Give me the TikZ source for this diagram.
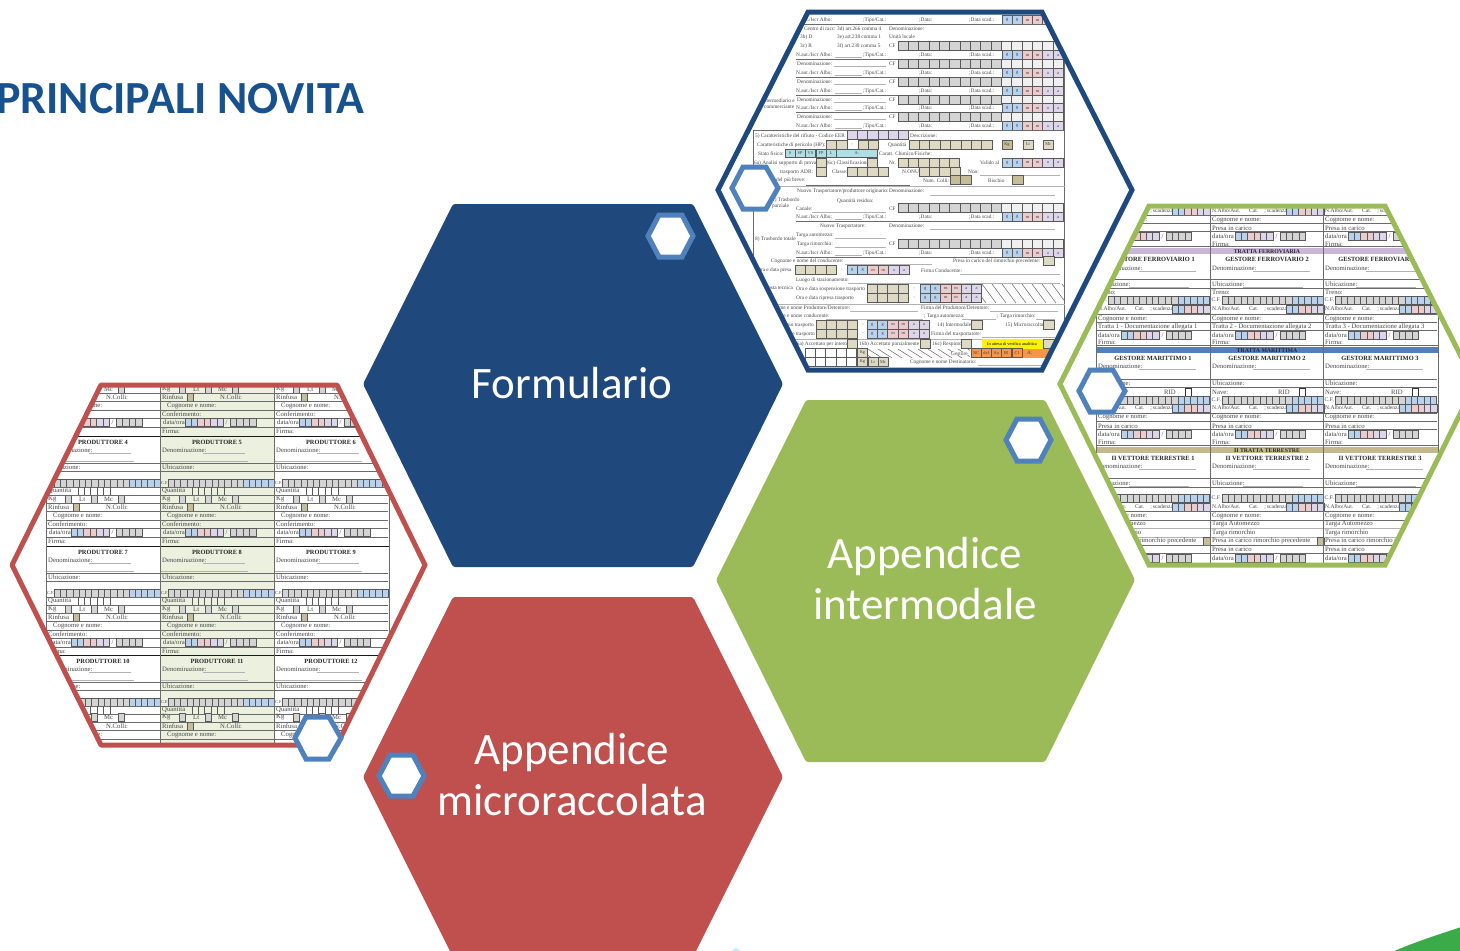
\documentclass[tikz,border=0pt]{standalone}
\usepackage{fontspec}
\setmainfont{Carlito}
\newfontfamily\formfont{Liberation Serif}
\definecolor{hexblue}{HTML}{1F497D}
\definecolor{hexred}{HTML}{C0504D}
\definecolor{hexgreen}{HTML}{9BBB59}
\definecolor{smallhex}{HTML}{4F81BD}
\definecolor{titleblue}{HTML}{17528F}
\definecolor{dblue}{HTML}{B8D2EE}
\definecolor{dpink}{HTML}{EBCBCB}
\definecolor{dlav}{HTML}{DDD6EA}
\definecolor{cgrey}{HTML}{D4D4D4}
\definecolor{clight}{HTML}{F0F0F0}
\definecolor{ctan}{HTML}{DDD9C3}
\definecolor{cdark}{HTML}{C4BD97}
\definecolor{ccyan}{HTML}{B0DEE6}
\definecolor{corange}{HTML}{F79646}
\definecolor{bandpurple}{HTML}{C9B6D9}
\definecolor{bandtan}{HTML}{C4B98C}
\definecolor{midgreen}{HTML}{EBF1DE}
\definecolor{logogreen}{HTML}{3BAA49}
\tikzset{
  ft/.style={anchor=west,inner sep=0pt,text=black!72,font=\formfont\fontsize{5.3}{5.3}\selectfont},
  ftbig/.style={ft/.append style={font=\formfont\fontsize{6.7}{6.7}\selectfont}},
  fs/.style={anchor=west,inner sep=0pt,text=black!72,font=\formfont\fontsize{5.6}{5.6}\selectfont},
  fb/.style={anchor=center,inner sep=0pt,text=black!85,font=\formfont\bfseries\fontsize{6.4}{6.4}\selectfont},
  fband/.style={anchor=center,inner sep=0pt,text=black!85,font=\formfont\bfseries\fontsize{5.8}{5.8}\selectfont},
  fc/.style={anchor=center,inner sep=0pt,text=black!75,font=\formfont\fontsize{4.4}{4.4}\selectfont},
  cellln/.style={draw=black!65,line width=.7pt},
  rowln/.style={draw=black!58,line width=.8pt},
  thinln/.style={draw=black!30,line width=.4pt},
  hatchln/.style={draw=black!60,line width=.5pt},
  darkln/.style={draw=black!80,line width=.8pt},
  bighex/.style={rounded corners=2.5pt},
  framehex/.style={line width=5pt,line join=miter,fill=none},
  minihex/.style={draw=smallhex,line width=5pt,fill=white,line join=miter},
  hexlabel/.style={inner sep=0pt,text=white,align=center,font=\fontsize{45}{51}\selectfont}
}
% text, cells
\newcommand{\ftxt}[3]{\node[ft] at (#1,#2) {#3};}
\newcommand{\stxt}[3]{\node[fs] at (#1,#2) {#3};}
\newcommand{\cellrow}[6]{\foreach \ii in {1,...,#3}{\draw[cellln,fill=#6] ({#1+(\ii-1)*#4},{#2-#5/2}) rectangle ++(#4,#5);}}
\newcommand{\datecells}[4]{%
  \foreach \ii/\cc/\ll in {1/dblue/g,2/dblue/g,3/dpink/m,4/dpink/m,5/dlav/a,6/dlav/a}{%
    \draw[cellln,fill=\cc] ({#1+(\ii-1)*#3},{#2-#4/2}) rectangle ++(#3,#4);
    \node[fc] at ({#1+(\ii-.5)*#3},#2) {\ll};}}
\newcommand{\datenol}[4]{%
  \foreach \ii/\cc in {1/dblue,2/dblue,3/dpink,4/dpink,5/dlav,6/dlav}{%
    \draw[cellln,fill=\cc] ({#1+(\ii-1)*#3},{#2-#4/2}) rectangle ++(#3,#4);}}
\newcommand{\labcell}[6]{\draw[cellln,fill=#5] (#1,{#2-#4/2}) rectangle ++(#3,#4) node[fc,midway] {#6};}
\newcommand{\hatcharea}[4]{%
  \begin{scope}
  \clip (#1,#2) rectangle (#3,#4);
  \foreach \hh in {0,10,...,280}{\draw[hatchln] ({#1-20+\hh},#2) -- ++(14,{#4-#2});}
  \end{scope}}
% top form rows
\newcommand{\nrow}[1]{%
  \ftxt{796}{#1}{N.aut./Iscr Albo:}\ftxt{863}{#1}{;Tipo/Cat.:}\ftxt{919}{#1}{;Data:}\ftxt{969}{#1}{;Data scad.:}
  \draw[thinln] (835,{#1+2.5}) -- (862,{#1+2.5});
  \draw[rowln] (796,{#1+4}) -- (1065,{#1+4});
  \datecells{1002}{#1}{10.2}{9}}
\newcommand{\drow}[2]{%
  \ftxt{797}{#1}{#2}\draw[thinln] (834,{#1+2.5}) -- (886,{#1+2.5});
  \ftxt{889}{#1}{CF}
  \cellrow{898}{#1}{10}{10.35}{9}{cgrey}
  \cellrow{1001.5}{#1}{6}{10.3}{9}{clight}}
% green form rows
\newcommand{\gcf}[2]{%
  \stxt{#1+1.5}{#2}{C.F.}
  \cellrow{#1+12}{#2}{11}{6.35}{8}{cgrey}
  \cellrow{#1+82}{#2}{5}{6.35}{8}{dblue}}
\newcommand{\galbo}[2]{%
  \stxt{#1+2}{#2}{N.Albo/Aut.\hspace{9pt}Cat.\hspace{6pt};\,scadenza}
  \datenol{#1+76}{#2}{6.35}{8}}
\newcommand{\gdata}[2]{%
  \ftxt{#1+2}{#2}{data/ora}
  \datenol{#1+25}{#2}{6.35}{8}
  \ftxt{#1+65.5}{#2}{/}
  \cellrow{#1+70}{#2}{4}{6.35}{8}{cgrey}}
% red form rows
\newcommand{\redlow}[2]{%
  \ftxt{#1+2}{#2+63}{Kg}\cellrow{#1+19}{#2+63}{1}{6.5}{8}{cgrey}
  \ftxt{#1+33}{#2+63}{Lt}\cellrow{#1+45}{#2+63}{1}{6.5}{8}{cgrey}
  \ftxt{#1+58}{#2+63}{Mc}\cellrow{#1+72}{#2+63}{1}{6.5}{8}{cgrey}
  \draw[rowln] (#1,{#2+67}) -- ++(114,0);
  \ftxt{#1+2}{#2+71}{Rinfusa}\cellrow{#1+27}{#2+71}{1}{6}{8}{cdark}\ftxt{#1+60}{#2+71}{N.Colli:}
  \draw[rowln] (#1,{#2+75.5}) -- ++(114,0);
  \ftxt{#1+7}{#2+80}{Cognome e nome:}
  \draw[rowln] (#1,{#2+84}) -- ++(114,0);
  \ftxt{#1+2}{#2+88}{Conferimento:}
  \draw[rowln] (#1,{#2+92}) -- ++(114,0);
  \ftxt{#1+3}{#2+96.5}{data/ora}
  \datenol{#1+25}{#2+96.5}{6.4}{8}
  \ftxt{#1+65.5}{#2+96.5}{/}
  \cellrow{#1+70}{#2+96.5}{4}{6.6}{8}{cgrey}
  \draw[rowln] (#1,{#2+101}) -- ++(114,0);
  \ftxt{#1+2}{#2+105.5}{Firma:}}
\newcommand{\redup}[3]{%
  \node[fb] at ({#1+57},{#2+6}) {PRODUTTORE #3};
  \ftxt{#1+2}{#2+14}{Denominazione:}\draw[thinln] (#1+43,{#2+17}) -- ++(42,0);
  \draw[thinln] (#1,{#2+25}) -- ++(88,0);
  \draw[rowln] (#1,{#2+27}) -- ++(114,0);
  \ftxt{#1+2}{#2+31}{Ubicazione:}
  \draw[rowln] (#1,{#2+35}) -- ++(114,0);
  \node[fc,anchor=west] at (#1+1,{#2+47}) {C.F.};
  \cellrow{#1+8}{#2+47}{12}{6.3}{8}{cgrey}
  \cellrow{#1+83.5}{#2+47}{5}{6.1}{8}{dblue}
  \draw[rowln] (#1,{#2+51}) -- ++(114,0);
  \ftxt{#1+2}{#2+55}{Quantità}
  \foreach \jj in {0,...,5}{\draw[cellln] ({#1+32+\jj*6.4},{#2+51}) -- ++(0,8);}
  \draw[rowln] (#1,{#2+59}) -- ++(114,0);}
\begin{document}
\begin{tikzpicture}[x=1pt,y=-1pt]
\useasboundingbox (0,0) rectangle (1460,951);
\clip (0,0) rectangle (1460,951);
\fill[white] (0,0) rectangle (1460,951);

% title
\node[anchor=base west,inner sep=0pt,text=titleblue,font=\bfseries\fontsize{46}{46}\selectfont] (title) at (-4,113) {PRINCIPALI NOVITA};

% big coloured hexagons
\fill[hexblue,bighex] (363,384) -- (453,204) -- (693,204) -- (783,384) -- (693,567) -- (453,567) -- cycle;
\fill[hexred,bighex] (363,777) -- (453,597) -- (693,597) -- (783,777) -- (693,957) -- (453,957) -- cycle;
\fill[hexgreen,bighex] (716,580) -- (806,400) -- (1045,400) -- (1135,580) -- (1045,762) -- (806,762) -- cycle;
\node[hexlabel] (formlabel) at (572,383) {Formulario};
\node[hexlabel] (intlabel) at (925,579) {Appendice\\intermodale};
\node[hexlabel] (miclabel) at (572,775) {Appendice\\microraccolata};

% ---------- top form ----------
\begin{scope}
\clip (718,190) -- (808,12) -- (1042,12) -- (1132,190) -- (1042,370) -- (808,370) -- cycle;
\fill[white] (718,190) -- (808,12) -- (1042,12) -- (1132,190) -- (1042,370) -- (808,370) -- cycle;
\ftxt{796}{20}{N.aut./Iscr Albo:}\ftxt{863}{20}{;Tipo/Cat.:}\ftxt{919}{20}{;Data:}\ftxt{969}{20}{;Data scad.:}
\datecells{1002}{20}{10.2}{9}
\draw[rowln] (796,24) -- (1065,24);
\ftxt{804}{29}{Centro di racc:}\ftxt{837}{29}{3d) art.266 comma 4}\ftxt{889}{29}{Denominazione:}
\ftxt{800}{37}{3b) D}\ftxt{837}{37}{3e) art.238 comma 1}\ftxt{889}{37}{Unità locale}
\ftxt{800}{46}{3c) R}\ftxt{837}{46}{3f) art.230 comma 5}\ftxt{889}{46}{CF}
\cellrow{898}{46}{10}{10.35}{9}{cgrey}\cellrow{1001.5}{46}{6}{10.3}{9}{clight}
\nrow{55}
\drow{64}{Denominazione:}
\nrow{73}
\drow{82}{Denominazione:}
\nrow{91}
\drow{100}{Denominazione:}
\nrow{108}
\drow{117}{Denominazione:}
\nrow{126}
\ftxt{762}{101}{Intermediario e}\ftxt{764}{107}{commerciante}
\draw[rowln] (753,130) -- (1065,130);
\draw[rowln] (753,130) -- (753,305);
\draw[rowln] (1064.5,10) -- (1064.5,360);
% characteristics
\ftxt{755}{136}{5) Caratteristiche del rifiuto - Codice EER}
\cellrow{847}{135}{6}{10.3}{9}{dlav}
\ftxt{910}{136}{Descrizione:}
\ftxt{757}{145}{Caratteristiche di pericolo (HP):}
\cellrow{826.5}{144.5}{2}{10.3}{9}{ctan}\node[fc] at (852,144.5) {-};\cellrow{858}{144.5}{2}{10.3}{9}{ctan}
\ftxt{888}{145}{Quantità}
\cellrow{909}{144.5}{8}{10.4}{9}{ctan}
\labcell{1002}{144.5}{10}{9}{cdark}{Kg}\labcell{1023}{144.5}{10}{9}{ctan}{Lt}\labcell{1043}{144.5}{10.5}{9}{ctan}{Mc}
\ftxt{758}{154}{Stato fisico:}
\foreach \xx/\ww/\tt in {785/10/S,795/10/SP,805.5/10/VS,816/10/FP,826/10/L}{\labcell{\xx}{153.5}{\ww}{8.5}{ccyan}{\tt}}
\labcell{836}{153.5}{41.5}{8.5}{ccyan}{A:}
\ftxt{879}{154}{Caratt. Chimico/Fisiche:}
\ftxt{754}{163}{6a) Analisi supporto di prova}
\cellrow{816}{162.5}{1}{10.5}{9}{ctan}
\ftxt{826.5}{163}{(6c) Classificazione}
\cellrow{867}{162.5}{1}{10.3}{9}{ctan}
\ftxt{889}{163}{Nr.}
\cellrow{898}{162.5}{6}{10.3}{9}{ctan}
\ftxt{980}{163}{Valido al}
\datecells{1002}{162.5}{10.2}{9}
\ftxt{780}{172}{trasporto ADR:}
\cellrow{816}{171.5}{1}{10.5}{9}{ctan}
\ftxt{832}{172}{Classe:}
\cellrow{847}{171.5}{4}{10.3}{9}{ctan}
\ftxt{902}{172}{N.ONU:}
\cellrow{919}{171.5}{4}{10.3}{9}{ctan}
\ftxt{968}{172}{Non:}\draw[thinln] (980,175) -- (1060,175);
\ftxt{776}{180}{del più breve:}\draw[rowln] (806,185) -- (910,185);
\ftxt{923}{181}{Num. Colli:}
\cellrow{950}{180}{2}{10.5}{9}{cdark}
\ftxt{988}{181}{Rischio}
\cellrow{1012}{180}{1}{11}{9}{cdark}
\draw[thinln] (753,186) -- (1065,186);
% transporter
\ftxt{797}{191}{Nuovo Trasportatore/produttore originario:}\ftxt{889}{191}{Denominazione:}\draw[thinln] (930,195) -- (1055,195);
\ftxt{837}{201}{Quantità residua:}
\ftxt{772}{200}{7) Trasbordo}\ftxt{772}{206}{parziale}
\ftxt{796}{209}{Canale:}\draw[thinln] (812,212) -- (886,212);
\ftxt{889}{209}{CF}
\cellrow{898}{208}{10}{10.35}{9}{cgrey}\cellrow{1001.5}{208}{6}{10.3}{9}{clight}
\nrow{217}
\ftxt{820}{226}{Nuovo Trasportatore:}\ftxt{889}{226}{Denominazione:}\draw[thinln] (930,229) -- (1055,229);
\ftxt{796}{235}{Targa automezzo:}\draw[thinln] (835,238) -- (886,238);
\ftxt{755}{239}{8) Trasbordo totale}
\ftxt{797}{244}{Targa rimorchio:}\draw[thinln] (835,247) -- (886,247);
\ftxt{889}{244}{CF}
\cellrow{898}{244}{10}{10.35}{9}{cgrey}\cellrow{1001.5}{244}{6}{10.3}{9}{clight}
\nrow{253}
\ftxt{771}{261}{Cognome e nome del conducente:}\draw[thinln] (845,264) -- (932,264);
\ftxt{953}{261}{Presa in carico del rimorchio precedente:}
\cellrow{1043}{261}{1}{11}{9}{ctan}
\ftxt{757}{270}{Ora e data presa}
\cellrow{795}{270}{4}{10.4}{9}{ctan}\node[fc] at (842,270) {-};\datecells{847}{270}{10.4}{9}
\ftxt{921}{271}{Firma Conducente:}\draw[thinln] (960,274) -- (1060,274);
\ftxt{796}{280}{Luogo di stazionamento:}\draw[thinln] (848,283) -- (1060,283);
\ftxt{765}{288}{Sosta tecnica}
\ftxt{796}{289}{Ora e data sospensione trasporto}
\ftxt{796}{298}{Ora e data ripresa trasporto}
\cellrow{867}{288.5}{4}{10.4}{9}{ctan}\cellrow{867}{297.5}{4}{10.4}{9}{ctan}
\node[fc] at (914,288.5) {-};\node[fc] at (914,297.5) {-};
\datecells{920}{288.5}{10.3}{9}\datecells{920}{297.5}{10.3}{9}
\hatcharea{982}{284}{1064}{303}
\draw[thinln] (753,304) -- (1065,304);
\ftxt{765}{308}{Cognome e nome Produttore/Detentore:}\draw[thinln] (850,311) -- (918,311);
\ftxt{921}{308}{Firma del Produttore/Detentore:}\draw[thinln] (990,311) -- (1058,311);
\ftxt{765}{316}{Cognome e nome conducente:}\draw[thinln] (826,319) -- (923,319);
\ftxt{924}{316}{; Targa automezzo:}\draw[thinln] (962,319) -- (996,319);
\ftxt{997}{316}{; Targa rimorchio:}\draw[thinln] (1036,319) -- (1055,319);
\ftxt{770}{325}{Data inizio trasporto}
\cellrow{816}{324.5}{4}{10.4}{9}{ctan}\node[fc] at (863,324.5) {-};\datecells{867}{324.5}{10.4}{9}
\ftxt{937}{325}{14) Intermodale}\cellrow{971}{324.5}{1}{11}{9}{ctan}
\ftxt{1005}{325}{15) Microraccolta}\cellrow{1043}{324.5}{1}{11}{9}{ctan}
\ftxt{785}{334}{Fine trasporto}
\cellrow{816}{333.5}{4}{10.4}{9}{ctan}\node[fc] at (863,333.5) {-};\datecells{867}{333.5}{10.4}{9}
\ftxt{931}{334}{Firma del trasportatore:}\draw[thinln] (982,337) -- (1055,337);
\draw[thinln] (775,339) -- (1065,339);
\ftxt{794}{344}{16a) Accettato per intero}\cellrow{847}{343.5}{1}{10.3}{9}{ctan}
\ftxt{859}{344}{16b) Accettato parzialmente}\cellrow{920}{343.5}{1}{10.3}{9}{ctan}
\ftxt{932}{344}{16c) Respinto}\cellrow{961}{343.5}{1}{10.5}{9}{ctan}
\fill[yellow] (982,339) rectangle (1043,349);
\node[fc,text=black] at (1012,344) {In attesa di verifica analitica};
\cellrow{1043}{343.5}{1}{11}{9}{ctan}
\cellrow{805}{353}{5}{10.3}{9}{white}
\labcell{857.5}{353}{10}{9}{ctan}{Kg}
\hatcharea{868}{349}{970}{358}
\node[ft,fill=white] at (951,353.5) {Gestore};
\fill[corange] (971,348.5) rectangle (1050,358);
\foreach \xx/\tt in {971/NC,981/daf,991/Aa,1001/IR,1012/C1}{\labcell{\xx}{353}{10.3}{9}{corange}{\tt}}
\ftxt{1027}{353}{A:}
\cellrow{805}{362}{5}{10.3}{9}{white}
\labcell{857.5}{362}{10}{9}{ctan}{Kg}\labcell{868}{362}{10}{9}{ctan}{Lt}\labcell{878}{362}{10}{9}{ctan}{Mc}
\ftxt{910}{362}{Cognome e nome Destinatario:}\draw[thinln] (978,365) -- (1045,365);
\end{scope}
\draw[hexblue,framehex] (718,190) -- (808,12) -- (1042,12) -- (1132,190) -- (1042,370) -- (808,370) -- cycle;

% ---------- green form ----------
\begin{scope}[ftbig]
\clip (1060,384) -- (1149,206) -- (1385,206) -- (1475,384) -- (1385,565) -- (1149,565) -- cycle;
\fill[white] (1060,384) -- (1149,206) -- (1385,206) -- (1475,384) -- (1385,565) -- (1149,565) -- cycle;
\foreach \cx/\cn in {1096/1,1210/2,1323/3}{
  \galbo{\cx}{211}
  \draw[rowln] (\cx,215) -- ++(114,0);
  \ftxt{\cx+2}{220}{Cognome e nome:}
  \draw[rowln] (\cx,223.5) -- ++(114,0);
  \ftxt{\cx+2}{228}{Presa in carico}
  \draw[rowln] (\cx,231) -- ++(114,0);
  \gdata{\cx}{236}
  \ftxt{\cx+2}{244}{Firma:}
  \node[fb] at ({\cx+57},259) {GESTORE FERROVIARIO \cn};
  \ftxt{\cx+2}{268}{Denominazione:}\draw[thinln] (\cx+43,271) -- ++(57,0);
  \draw[rowln] (\cx,279.5) -- ++(114,0);
  \ftxt{\cx+2}{284}{Ubicazione:}\draw[thinln] (\cx+33,287) -- ++(60,0);
  \draw[rowln] (\cx,288) -- ++(114,0);
  \ftxt{\cx+2}{292}{Treno:}
  \gcf{\cx}{300}
  \galbo{\cx}{309}
  \draw[rowln] (\cx,314) -- ++(114,0);
  \ftxt{\cx+2}{319}{Cognome e nome:}
  \draw[rowln] (\cx,322.5) -- ++(114,0);
  \ftxt{\cx+2}{327}{Tratta \cn\ - Documentazione allegata \cn}
  \draw[rowln] (\cx,330) -- ++(114,0);
  \gdata{\cx}{335}
  \ftxt{\cx+2}{342}{Firma:}
  \node[fb] at ({\cx+57},358) {GESTORE MARITTIMO \cn};
  \ftxt{\cx+2}{366}{Denominazione:}\draw[thinln] (\cx+43,369) -- ++(57,0);
  \draw[rowln] (\cx,379) -- ++(114,0);
  \ftxt{\cx+2}{383}{Ubicazione:}
  \draw[rowln] (\cx,387) -- ++(114,0);
  \ftxt{\cx+2}{392}{Nave:}\ftxt{\cx+68}{392}{RID}
  \draw[darkln] (\cx+89,388) rectangle ++(6,8);
  \gcf{\cx}{400}
  \galbo{\cx}{408}
  \draw[rowln] (\cx,413) -- ++(114,0);
  \ftxt{\cx+2}{417}{Cognome e nome:}
  \draw[rowln] (\cx,421.5) -- ++(114,0);
  \ftxt{\cx+2}{426}{Presa in carico}
  \draw[rowln] (\cx,429.5) -- ++(114,0);
  \gdata{\cx}{434}
  \ftxt{\cx+2}{442}{Firma:}
  \node[fb] at ({\cx+57},458) {II VETTORE TERRESTRE \cn};
  \ftxt{\cx+2}{466}{Denominazione:}\draw[thinln] (\cx+43,469) -- ++(57,0);
  \draw[rowln] (\cx,478.5) -- ++(114,0);
  \ftxt{\cx+2}{483}{Ubicazione:}\draw[thinln] (\cx+33,486) -- ++(60,0);
  \draw[rowln] (\cx,487.5) -- ++(114,0);
  \gcf{\cx}{498}
  \galbo{\cx}{507}
  \draw[rowln] (\cx,511.5) -- ++(114,0);
  \ftxt{\cx+2}{516}{Cognome e nome:}
  \draw[rowln] (\cx,520) -- ++(114,0);
  \ftxt{\cx+2}{524}{Targa Automezzo}
  \draw[thinln] (\cx,528.5) -- ++(114,0);
  \ftxt{\cx+2}{533}{Targa rimorchio}
  \draw[thinln] (\cx,537) -- ++(114,0);
  \ftxt{\cx+2}{541}{Presa in carico rimorchio precedente}
  \cellrow{\cx+107}{541}{1}{7}{8}{cdark}
  \draw[rowln] (\cx,545) -- ++(114,0);
  \ftxt{\cx+2}{549}{Presa in carico}
  \draw[rowln] (\cx,553) -- ++(114,0);
  \gdata{\cx}{558}
}
\fill[bandpurple] (1096,248) rectangle (1438,254);
\node[fband] at (1267,251.5) {TRATTA FERROVIARIA};
\fill[smallhex] (1096,347) rectangle (1438,353);
\node[fband] at (1267,350.5) {TRATTA MARITTIMA};
\fill[bandtan] (1096,447) rectangle (1438,453);
\node[fband] at (1267,450.5) {II TRATTA TERRESTRE};
\draw[rowln] (1096,246) -- (1438,246);
\draw[rowln] (1096,345.5) -- (1438,345.5);
\draw[rowln] (1096,445) -- (1438,445);
\foreach \xx in {1096,1210,1323,1438}{\draw[rowln] (\xx,200) -- (\xx,570);}
\end{scope}
\draw[hexgreen,framehex] (1060,384) -- (1149,206) -- (1385,206) -- (1475,384) -- (1385,565) -- (1149,565) -- cycle;

% ---------- red form ----------
\begin{scope}[ftbig]
\clip (12,565) -- (101,385) -- (337,385) -- (425,565) -- (337,745) -- (101,745) -- cycle;
\fill[white] (12,565) -- (101,385) -- (337,385) -- (425,565) -- (337,745) -- (101,745) -- cycle;
\fill[midgreen] (160,385) rectangle (274,745);
\foreach \cx in {46,160,274}{
  \redlow{\cx}{326}
  \redlow{\cx}{436}
  \redlow{\cx}{546}
}
\foreach \cx/\aa/\bb/\cc in {46/4/7/10,160/5/8/11,274/6/9/12}{
  \redup{\cx}{436}{\aa}
  \redup{\cx}{546}{\bb}
  \redup{\cx}{655}{\cc}
  \ftxt{\cx+2}{717.5}{Kg}\cellrow{\cx+19}{717.5}{1}{6.5}{8}{cgrey}
  \ftxt{\cx+33}{717.5}{Lt}\cellrow{\cx+45}{717.5}{1}{6.5}{8}{cgrey}
  \ftxt{\cx+58}{717.5}{Mc}\cellrow{\cx+72}{717.5}{1}{6.5}{8}{cgrey}
  \draw[rowln] (\cx,722) -- ++(114,0);
  \ftxt{\cx+2}{726}{Rinfusa}\cellrow{\cx+27}{726}{1}{6}{8}{cdark}\ftxt{\cx+60}{726}{N.Colli:}
  \draw[rowln] (\cx,730) -- ++(114,0);
  \ftxt{\cx+7}{734.5}{Cognome e nome:}
  \draw[rowln] (\cx,739) -- ++(114,0);
}
\foreach \yy in {436,546,655}{\draw[draw=black!90,line width=.8pt] (46,\yy) -- (389,\yy);}
\foreach \xx in {46,160,274,389}{\draw[rowln] (\xx,385) -- (\xx,745);}
\end{scope}
\draw[hexred,framehex,line join=round] (12,565) -- (101,385) -- (337,385) -- (425,565) -- (337,745) -- (101,745) -- cycle;

% small hexagons
\draw[minihex] (648,236) -- (659,215) -- (682,215) -- (693,236) -- (682,257) -- (659,257) -- cycle;
\draw[minihex] (732,188) -- (743,167) -- (766,167) -- (778,188) -- (766,209) -- (743,209) -- cycle;
\draw[minihex] (1079,391) -- (1090,370) -- (1113,370) -- (1125,391) -- (1113,412) -- (1090,412) -- cycle;
\draw[minihex] (1006,440) -- (1017,419) -- (1040,419) -- (1051,440) -- (1040,461) -- (1017,461) -- cycle;
\draw[minihex] (379,776) -- (390,755) -- (413,755) -- (424,776) -- (413,796) -- (390,796) -- cycle;
\draw[minihex] (295,738) -- (306,717) -- (329,717) -- (341,738) -- (329,759) -- (306,759) -- cycle;

% bottom-edge fragments
\fill[logogreen] (1392,952) .. controls (1415,942) and (1437,935) .. (1461,927) -- (1461,952) -- cycle;
\fill[cyan!20] (736,951) ellipse (4 and 3);
\end{tikzpicture}
\end{document}
